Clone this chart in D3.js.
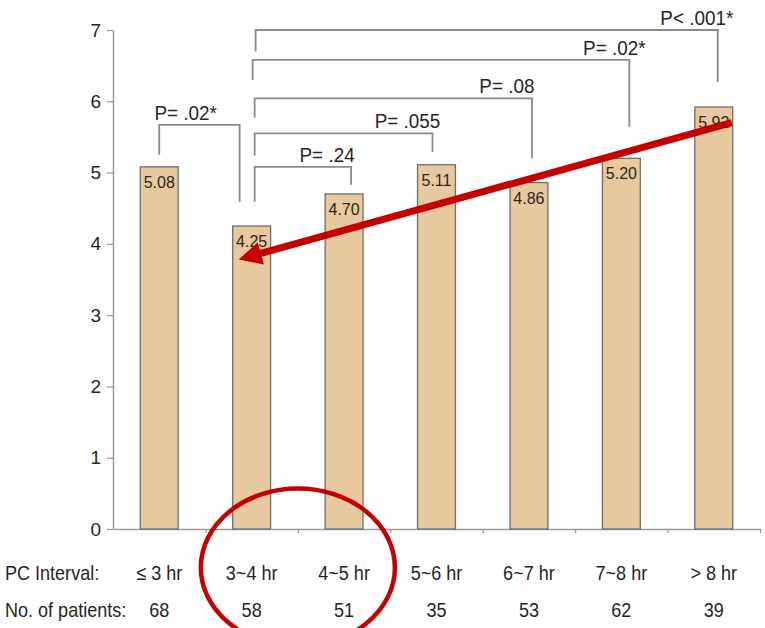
<!DOCTYPE html>
<html>
<head>
<meta charset="utf-8">
<script src="https://cdn.jsdelivr.net/npm/d3@7/dist/d3.min.js"></script>
<style>
  html, body { margin: 0; padding: 0; background: #fff; }
  svg { display: block; }
  text { font-family: "Liberation Sans", Arial, sans-serif; }
</style>
</head>
<body>
<svg id="chart" width="765" height="628"></svg>
<script>
// ---- data ----
const categories = ["\u2264 3 hr", "3~4 hr", "4~5 hr", "5~6 hr", "6~7 hr", "7~8 hr", "> 8 hr"];
const values = [5.08, 4.25, 4.70, 5.11, 4.86, 5.20, 5.92];
const valueLabels = ["5.08", "4.25", "4.70", "5.11", "4.86", "5.20", "5.92"];
const patients = [68, 58, 51, 35, 53, 62, 39];
const yTicks = [0, 1, 2, 3, 4, 5, 6, 7];

// pairwise comparisons (category indices) and their p-values
const compFrom = [0, 1, 1, 1, 1, 1];
const compTo = [1, 2, 3, 4, 5, 6];
const compLabels = ["P= .02*", "P= .24", "P= .055", "P= .08", "P= .02*", "P< .001*"];

// highlighted trend: from the > 8 hr bar back to the 3~4 hr bar
const trendFrom = { cat: "> 8 hr", value: 5.70 };
const trendTo = { cat: "3~4 hr", value: 3.78 };
const circled = ["3~4 hr", "4~5 hr"];

// ---- layout ----
const svg = d3.select("#chart");
const x0 = 113, x1 = 760, yBase = 529, yTop = 30;

const x = d3.scaleBand().domain(categories).range([x0, x1])
  .paddingInner(0.59).paddingOuter(0.295);
const y = d3.scaleLinear().domain([0, 7]).range([yBase, yTop]);
const cx = c => x(c) + x.bandwidth() / 2;

const red = "#c40000";
const grey = "#8a8a8a";
const ink = "#262626";

// bracket geometry (value units for heights, px nudges for legs / labels)
const bracketLevel = [5.67, 5.08, 5.55, 6.04, 6.58, 7.0];
const leftEnd = [5.25, 4.59, 5.24, 5.77, 6.30, 6.70];
const rightEnd = [4.59, 4.83, 5.29, 5.20, 5.64, 6.27];
const leftDx = [0, 3, 3, 3, 1, 4];
const rightDx = [-12, 7, -4, 3, 8, 4];
const labelDx = [-54, -24, -25, -25, -15, -21];

// ---- y axis ----
const yAxis = svg.append("g")
  .attr("transform", `translate(${x0},0)`)
  .call(d3.axisLeft(y).tickValues(yTicks).tickFormat(d3.format("d"))
    .tickSize(6).tickSizeOuter(0).tickPadding(6));
yAxis.select(".domain").attr("stroke", "#9a9a9a").attr("stroke-width", 1.5);
yAxis.selectAll(".tick line").attr("stroke", "#9a9a9a").attr("stroke-width", 1.2);
yAxis.selectAll(".tick text")
  .attr("font-size", 19).attr("fill", ink)
  .attr("font-family", "Liberation Sans, Arial, sans-serif");

// ---- x axis (tick marks at category boundaries) ----
const xb = d3.scaleLinear().domain([0, categories.length]).range([x0, x1]);
const xAxis = svg.append("g")
  .attr("transform", `translate(0,${yBase})`)
  .call(d3.axisBottom(xb).tickValues(d3.range(1, categories.length + 1))
    .tickFormat("").tickSize(4).tickSizeOuter(0));
xAxis.select(".domain").attr("stroke", "#9a9a9a").attr("stroke-width", 1.5);
xAxis.selectAll(".tick line").attr("stroke", "#9a9a9a").attr("stroke-width", 1.2);

// ---- bars ----
svg.append("g").selectAll("rect")
  .data(values)
  .join("rect")
  .attr("x", (d, i) => x(categories[i]))
  .attr("y", d => y(d))
  .attr("width", x.bandwidth())
  .attr("height", d => y(0) - y(d))
  .attr("fill", "#e8c89e")
  .attr("stroke", "#6e6e6e")
  .attr("stroke-width", 1.3);

svg.append("g").selectAll("text")
  .data(values)
  .join("text")
  .attr("x", (d, i) => cx(categories[i]))
  .attr("y", d => y(d) + 21)
  .attr("text-anchor", "middle")
  .attr("font-size", 16)
  .attr("fill", "#2e2518")
  .text((d, i) => valueLabels[i]);

// ---- significance brackets ----
const bg = svg.append("g").attr("fill", "none").attr("stroke", grey).attr("stroke-width", 1.8);
compLabels.forEach((lab, k) => {
  const xl = cx(categories[compFrom[k]]) + leftDx[k];
  const xr = cx(categories[compTo[k]]) + rightDx[k];
  const yl = y(bracketLevel[k]);
  bg.append("path")
    .attr("d", `M${xl},${y(leftEnd[k])}V${yl}H${xr}V${y(rightEnd[k])}`);
  svg.append("text")
    .attr("transform", `translate(${xr + labelDx[k]},${yl - 5}) scale(0.9,1)`)
    .attr("text-anchor", "middle")
    .attr("font-size", 21)
    .attr("fill", ink)
    .text(lab);
});

// ---- bottom label rows ----
const row1 = 580, row2 = 617;
svg.append("text")
  .attr("transform", `translate(5,${row1}) scale(0.88,1)`)
  .attr("font-size", 20.5).attr("fill", ink).text("PC Interval:");
svg.append("text")
  .attr("transform", `translate(5,${row2}) scale(0.88,1)`)
  .attr("font-size", 20.5).attr("fill", ink).text("No. of patients:");

svg.append("g").selectAll("text")
  .data(categories)
  .join("text")
  .attr("transform", d => `translate(${cx(d)},${row1}) scale(0.88,1)`)
  .attr("text-anchor", "middle")
  .attr("font-size", 20.5).attr("fill", ink)
  .text(d => d);

svg.append("g").selectAll("text")
  .data(patients)
  .join("text")
  .attr("transform", (d, i) => `translate(${cx(categories[i])},${row2}) scale(0.88,1)`)
  .attr("text-anchor", "middle")
  .attr("font-size", 20.5).attr("fill", ink)
  .text(d => d);

// ---- trend arrow ----
const ax0 = x(trendFrom.cat) + x.bandwidth() - 1, ay0 = y(trendFrom.value);
const ax1 = x(trendTo.cat) + 6, ay1 = y(trendTo.value);
const len = Math.hypot(ax1 - ax0, ay1 - ay0);
const ux = (ax1 - ax0) / len, uy = (ay1 - ay0) / len;
const headLen = 23, headHalf = 11.5;
const bx = ax1 - ux * headLen, by = ay1 - uy * headLen;
svg.append("line")
  .attr("x1", ax0).attr("y1", ay0).attr("x2", bx + ux * 2).attr("y2", by + uy * 2)
  .attr("stroke", red).attr("stroke-width", 7);
svg.append("path")
  .attr("d", `M${ax1},${ay1}L${bx - uy * headHalf},${by + ux * headHalf}L${bx + uy * headHalf},${by - ux * headHalf}Z`)
  .attr("fill", red);

// ---- circle around the two shortest intervals' labels ----
const ecx = (cx(circled[0]) + cx(circled[1])) / 2;
svg.append("ellipse")
  .attr("cx", ecx).attr("cy", (row1 + row2) / 2 - 31)
  .attr("rx", x.step() * 1.05).attr("ry", 79)
  .attr("fill", "none").attr("stroke", red).attr("stroke-width", 4.5);
</script>
</body>
</html>
